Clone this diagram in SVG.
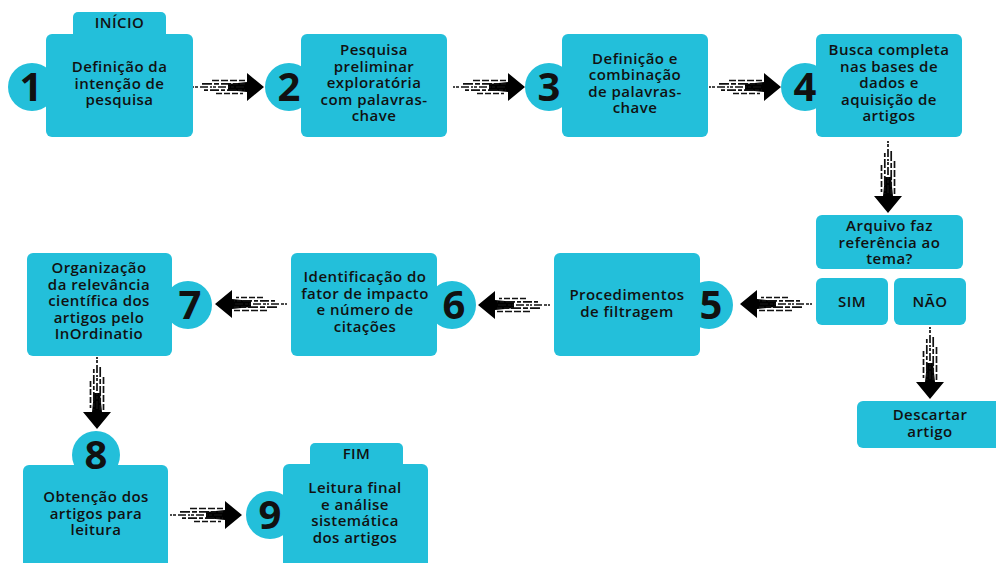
<svg xmlns="http://www.w3.org/2000/svg" xmlns:xlink="http://www.w3.org/1999/xlink" width="996" height="563" viewBox="0 0 996 563">
<style>
.box{fill:#23BFDA}
.t{font-family:"Open Sans","Liberation Sans",sans-serif;font-size:15px;font-weight:600;fill:#111;text-anchor:middle;letter-spacing:0.45px}
.n{font-family:"Open Sans","Liberation Sans",sans-serif;font-size:40px;font-weight:700;fill:#111;text-anchor:middle}
.s{stroke:#111;stroke-width:1.7;fill:none}
</style>
<defs>
<g id="arr">
<polygon points="-36,-3 -17,-5 -17,-14 0,0 -17,14 -17,5 -36,3" fill="#000"/>
<line class="s" x1="-52" y1="-6.5" x2="-19" y2="-6.5" stroke-dasharray="7 2"/>
<line class="s" x1="-62" y1="-3.2" x2="-19" y2="-3.2" stroke-dasharray="10 2 5 2"/>
<line class="s" x1="-72" y1="0" x2="-19" y2="0" stroke-dasharray="2 1 3 2 8 2"/>
<line class="s" x1="-60" y1="3.2" x2="-19" y2="3.2" stroke-dasharray="4 2 9 2"/>
<line class="s" x1="-48" y1="6.5" x2="-21" y2="6.5" stroke-dasharray="6 2"/>
</g>
</defs>

<g id="connectors">
<use xlink:href="#arr" href="#arr" transform="translate(264,87)"/>
<use xlink:href="#arr" href="#arr" transform="translate(525,87)"/>
<use xlink:href="#arr" href="#arr" transform="translate(781,87)"/>
<use xlink:href="#arr" href="#arr" transform="translate(888,213) rotate(90)"/>
<use xlink:href="#arr" href="#arr" transform="translate(740,304) rotate(180)"/>
<use xlink:href="#arr" href="#arr" transform="translate(478,305) rotate(180)"/>
<use xlink:href="#arr" href="#arr" transform="translate(215,304) rotate(180)"/>
<use xlink:href="#arr" href="#arr" transform="translate(97,429) rotate(90)"/>
<use xlink:href="#arr" href="#arr" transform="translate(930,399) rotate(90)"/>
<use xlink:href="#arr" href="#arr" transform="translate(242,515)"/>
</g>

<g id="n1">
<rect class="box" x="73" y="12" width="93" height="30" rx="5"/>
<text class="t" x="119.5" y="28">INÍCIO</text>
<circle class="box" cx="32" cy="87" r="24"/>
<rect class="box" x="46" y="34" width="147" height="103" rx="6"/>
<text class="n" x="31" y="101">1</text>
<text class="t" x="119.5"><tspan x="119.5" y="72">Definição da</tspan><tspan x="119.5" y="88.5">intenção de</tspan><tspan x="119.5" y="105">pesquisa</tspan></text>
</g>

<g id="n2">
<circle class="box" cx="289" cy="87" r="24"/>
<rect class="box" x="301" y="34" width="146" height="103" rx="6"/>
<text class="n" x="289" y="101">2</text>
<text class="t"><tspan x="374" y="55">Pesquisa</tspan><tspan x="374" y="71.5">preliminar</tspan><tspan x="374" y="88">exploratória</tspan><tspan x="374" y="104.5">com palavras-</tspan><tspan x="374" y="121">chave</tspan></text>
</g>

<g id="n3">
<circle class="box" cx="549" cy="87" r="24"/>
<rect class="box" x="562" y="34" width="146" height="103" rx="6"/>
<text class="n" x="549" y="101">3</text>
<text class="t"><tspan x="635" y="63.5">Definição e</tspan><tspan x="635" y="80">combinação</tspan><tspan x="635" y="96.5">de palavras-</tspan><tspan x="635" y="113">chave</tspan></text>
</g>

<g id="n4">
<circle class="box" cx="805" cy="87" r="24"/>
<rect class="box" x="816" y="34" width="146" height="103" rx="6"/>
<text class="n" x="805" y="101">4</text>
<text class="t"><tspan x="889" y="55">Busca completa</tspan><tspan x="889" y="71.5">nas bases de</tspan><tspan x="889" y="88">dados e</tspan><tspan x="889" y="104.5">aquisição de</tspan><tspan x="889" y="121">artigos</tspan></text>
</g>

<g id="q">
<rect class="box" x="816" y="215" width="147" height="54" rx="6"/>
<text class="t"><tspan x="889.5" y="231">Arquivo faz</tspan><tspan x="889.5" y="247.5">referência ao</tspan><tspan x="889.5" y="264">tema?</tspan></text>
</g>

<g id="sim">
<rect class="box" x="816" y="278" width="72" height="47" rx="6"/>
<text class="t" x="852" y="307">SIM</text>
</g>

<g id="nao">
<rect class="box" x="894" y="278" width="72" height="47" rx="6"/>
<text class="t" x="930" y="307">NÃO</text>
</g>

<g id="descartar">
<rect class="box" x="857" y="401" width="150" height="47" rx="6"/>
<text class="t"><tspan x="930" y="420">Descartar</tspan><tspan x="930" y="436.5">artigo</tspan></text>
</g>

<g id="n5">
<circle class="box" cx="709" cy="305" r="24"/>
<rect class="box" x="554" y="253" width="146" height="103" rx="6"/>
<text class="n" x="711" y="319">5</text>
<text class="t"><tspan x="627" y="300">Procedimentos</tspan><tspan x="627" y="316.5">de filtragem</tspan></text>
</g>

<g id="n6">
<circle class="box" cx="452" cy="305" r="24"/>
<rect class="box" x="291" y="253" width="146" height="103" rx="6"/>
<text class="n" x="454" y="319">6</text>
<text class="t"><tspan x="365" y="282">Identificação do</tspan><tspan x="365" y="298.5">fator de impacto</tspan><tspan x="365" y="315">e número de</tspan><tspan x="365" y="331.5">citações</tspan></text>
</g>

<g id="n7">
<circle class="box" cx="188" cy="305" r="24"/>
<rect class="box" x="27" y="253" width="145" height="103" rx="6"/>
<text class="n" x="190" y="319">7</text>
<text class="t"><tspan x="99" y="273">Organização</tspan><tspan x="99" y="289.5">da relevância</tspan><tspan x="99" y="306">científica dos</tspan><tspan x="99" y="322.5">artigos pelo</tspan><tspan x="99" y="339">InOrdinatio</tspan></text>
</g>

<g id="n8">
<circle class="box" cx="96" cy="455" r="24"/>
<rect class="box" x="23" y="465" width="145" height="110" rx="6"/>
<text class="n" x="96" y="469">8</text>
<text class="t"><tspan x="96" y="502">Obtenção dos</tspan><tspan x="96" y="518.5">artigos para</tspan><tspan x="96" y="535">leitura</tspan></text>
</g>

<g id="n9">
<rect class="box" x="310" y="443" width="93" height="30" rx="5"/>
<text class="t" x="356.5" y="459">FIM</text>
<circle class="box" cx="270" cy="515" r="24"/>
<rect class="box" x="283" y="464" width="145" height="111" rx="6"/>
<text class="n" x="270" y="529">9</text>
<text class="t"><tspan x="355" y="493">Leitura final</tspan><tspan x="355" y="509.5">e análise</tspan><tspan x="355" y="526">sistemática</tspan><tspan x="355" y="542.5">dos artigos</tspan></text>
</g>
</svg>
